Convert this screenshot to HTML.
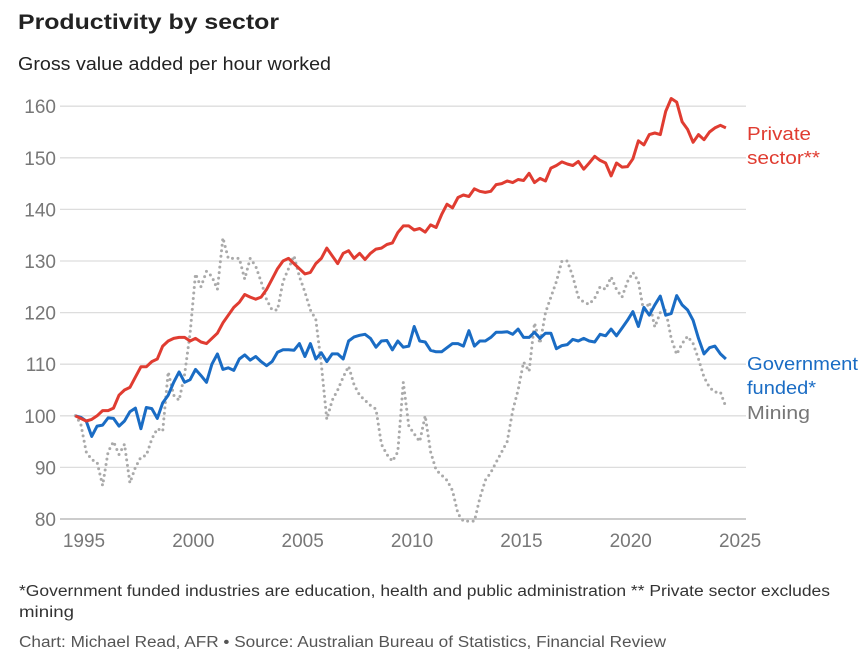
<!DOCTYPE html>
<html><head><meta charset="utf-8"><style>
body{margin:0;background:#fff;width:862px;height:659px;overflow:hidden;font-family:"Liberation Sans",sans-serif;}
svg{position:absolute;left:0;top:0}
</style></head><body>
<svg width="862" height="659">
<text x="18" y="29" font-size="21" font-weight="bold" fill="#222" textLength="261" lengthAdjust="spacingAndGlyphs">Productivity by sector</text>
<text x="18" y="70" font-size="18" fill="#222" textLength="313" lengthAdjust="spacingAndGlyphs">Gross value added per hour worked</text>
<g id="grid"></g><g id="series"></g>
<text x="747" y="140" font-size="18" fill="#e03c31" textLength="64" lengthAdjust="spacingAndGlyphs">Private</text>
<text x="747" y="164" font-size="18" fill="#e03c31" textLength="73" lengthAdjust="spacingAndGlyphs">sector**</text>
<text x="747" y="370" font-size="18" fill="#1a6cc4" textLength="111" lengthAdjust="spacingAndGlyphs">Government</text>
<text x="747" y="394" font-size="18" fill="#1a6cc4" textLength="69" lengthAdjust="spacingAndGlyphs">funded*</text>
<text x="747" y="419" font-size="18" fill="#777" textLength="63" lengthAdjust="spacingAndGlyphs">Mining</text>
<text x="19" y="596" font-size="15.5" fill="#333" textLength="811" lengthAdjust="spacingAndGlyphs">*Government funded industries are education, health and public administration ** Private sector excludes</text>
<text x="19" y="617" font-size="15.5" fill="#333" textLength="55" lengthAdjust="spacingAndGlyphs">mining</text>
<text x="19" y="647" font-size="15.5" fill="#555" textLength="647" lengthAdjust="spacingAndGlyphs">Chart: Michael Read, AFR • Source: Australian Bureau of Statistics, Financial Review</text>
</svg>
<script>
const yTicks=[80,90,100,110,120,130,140,150,160];
const xTicks=[1995,2000,2005,2010,2015,2020,2025];
const startYear=1994.6;
const privateSector=[100,99.5,99,99.3,100,101,101,101.5,104,105,105.5,107.5,109.5,109.5,110.5,111,113.5,114.5,115,115.2,115.2,114.5,115,114.3,114,115,116,118,119.5,121,122,123.5,123,122.6,123,124.5,126.5,128.5,130,130.5,129.5,128.5,127.5,127.8,129.5,130.5,132.5,131,129.5,131.5,132,130.5,131.5,130.3,131.5,132.3,132.5,133.2,133.5,135.5,136.8,136.8,136,136.3,135.6,137,136.5,139,141,140.3,142.3,142.8,142.5,144,143.5,143.3,143.5,144.8,145,145.5,145.2,145.8,145.6,147,145.2,146,145.5,148,148.5,149.2,148.8,148.5,149.3,147.8,149,150.3,149.5,149,146.5,149,148.2,148.3,149.8,153.3,152.5,154.5,154.8,154.5,159,161.5,160.8,157,155.5,153,154.5,153.5,155,155.8,156.3,155.8];
const governmentFunded=[100,99.7,99,96,98,98.2,99.6,99.5,98,99,100.8,101.5,97.5,101.6,101.4,99.5,102.5,104,106.5,108.5,106.5,107,109,107.8,106.5,110,112,109,109.3,108.8,111,111.8,110.8,111.5,110.5,109.7,110.5,112.3,112.8,112.8,112.7,114,111.5,114,111,112.2,110.5,112,112,111,114.5,115.3,115.6,115.8,115,113.3,114.5,114.6,112.8,114.5,113.3,113.5,117.3,114.5,114.3,112.7,112.4,112.4,113.2,114,114,113.5,116.5,113.5,114.5,114.5,115.2,116.2,116.2,116.3,115.8,116.8,115.2,115.2,116.2,115,116,116,113,113.6,113.8,114.8,114.5,115,114.5,114.3,115.8,115.5,116.8,115.5,117,118.5,120.2,117.3,121,119.5,121.5,123.2,119.5,119.8,123.3,121.5,120.5,118.5,115,112,113.2,113.5,112,111];
const mining=[100,98.5,93,91.5,91,86.5,93,95,92.5,94.5,87,90,92,92.3,95.5,97.5,97,108.5,104,103,108,116,127.5,125,128,127,124.5,134.5,130.5,130.5,130.5,126.5,130.5,129,126,122.5,120.5,120.5,126,128.5,131,127,124,120.5,118.7,110,99.3,103,105,107.5,109.6,106,104,103,102,101.3,94.5,92.5,91.2,93,106.5,98,96.5,95,100,93,89.5,88.5,87.5,85.5,81,79.6,79.6,79.6,84,87.5,89,91,93,95,101,105,110.4,108.6,118,114,120,123,126,130,130,127,123,122,121.6,122.8,125,124.5,126.9,124.5,123,126,127.8,126,120,122,117.2,120,120.5,115,111.9,114,115.4,114,111,107.5,105.5,104.6,104.6,101.7];
const NS="http://www.w3.org/2000/svg";
const xs=y=>84+(y-1995)*21.87;
const ys=v=>519-(v-80)*5.16;
const grid=document.getElementById('grid'),ser=document.getElementById('series');
yTicks.forEach(t=>{
 const l=document.createElementNS(NS,'line');
 l.setAttribute('x1',60);l.setAttribute('x2',746);l.setAttribute('y1',ys(t));l.setAttribute('y2',ys(t));
 l.setAttribute('stroke',t===80?'#ccc':'#ddd');l.setAttribute('stroke-width',t===80?2:1.3);
 
 
 grid.appendChild(l);
 const tx=document.createElementNS(NS,'text');
 tx.setAttribute('x',56);tx.setAttribute('y',ys(t)+7);tx.setAttribute('text-anchor','end');
 tx.setAttribute('font-size',19);tx.setAttribute('fill','#777');tx.textContent=t;
 
 
 grid.appendChild(tx);
});
xTicks.forEach(t=>{
 const tx=document.createElementNS(NS,'text');
 tx.setAttribute('x',xs(t));tx.setAttribute('y',547);tx.setAttribute('text-anchor','middle');
 tx.setAttribute('font-size',19);tx.setAttribute('fill','#777');tx.textContent=t;
 
 
 grid.appendChild(tx);
});
function line(vals,color,dash,name){
 const p=document.createElementNS(NS,'path');
 p.setAttribute('d',vals.map((v,i)=>(i?'L':'M')+xs(startYear+i*0.25).toFixed(1)+','+ys(v).toFixed(1)).join(''));
 p.setAttribute('fill','none');p.setAttribute('stroke',color);p.setAttribute('stroke-width',3);
 p.setAttribute('stroke-linejoin','round');
 if(dash){p.setAttribute('stroke-dasharray','0 5.5');p.setAttribute('stroke-linecap','round');}
 
 
 ser.appendChild(p);
}
line(mining,'#aaa',true,'mining-line');
line(governmentFunded,'#1a6cc4',false,'government-funded-line');
line(privateSector,'#e03c31',false,'private-sector-line');
</script>
</body></html>
